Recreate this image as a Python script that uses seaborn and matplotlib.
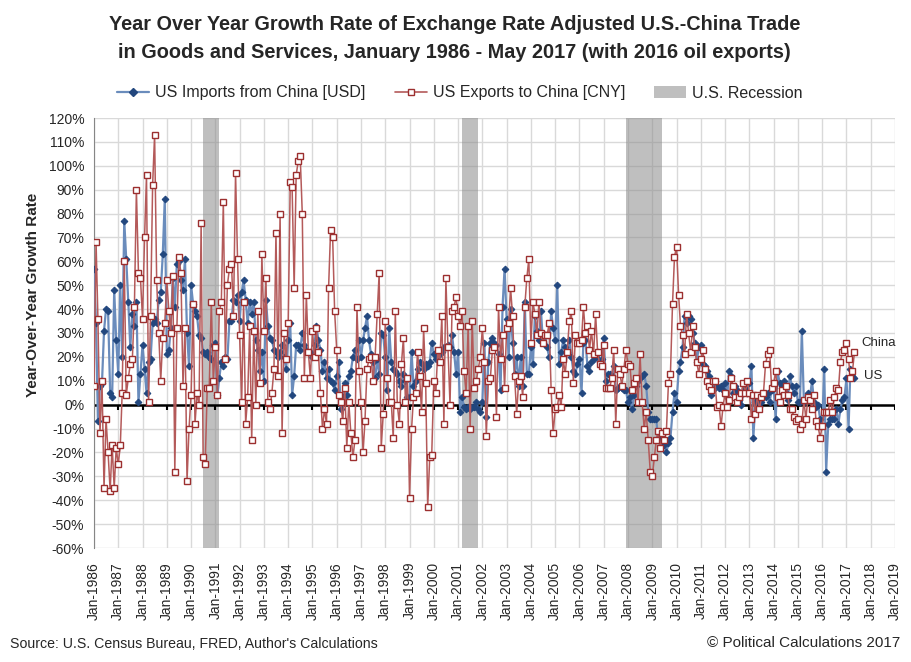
import numpy as np
import pandas as pd
import matplotlib
matplotlib.use("Agg")
import matplotlib.pyplot as plt
from matplotlib.lines import Line2D
from matplotlib.patches import Patch
from matplotlib.ticker import FuncFormatter
import seaborn as sns

# year-over-year growth, %, monthly from Jan 1986 (one row per year)
imports_usd = [
    57, 34, -7, 8, 9, 31, 40, 39, 5, 3, 48, 27,
    13, 50, 20, 77, 61, 43, 24, 38, 33, 43, 1, 13,
    25, 15, 5, 18, 19, 34, 36, 34, 44, 47, 63, 86,
    21, 23, 32, 53, 41, 59, 60, 52, 48, 61, 30, 16,
    50, 42, 39, 37, 29, 28, 22, 21, 22, 20, 19, 25,
    26, 4, 11, 18, 16, 20, 19, 35, 35, 44, 43, 46,
    35, 47, 52, 44, 34, 43, 38, 43, 27, 23, 14, 22,
    10, 44, 33, 28, 27, 23, 22, 20, 22, 25, 20, 15,
    27, 34, 4, 12, 25, 25, 23, 30, 25, 23, 22, 22,
    20, 25, 33, 27, 23, 14, 18, 11, 15, 10, 9, 6,
    12, 18, -2, 3, 9, 4, 12, 14, 20, 23, 19, 27,
    20, 27, 32, 37, 27, 21, 18, 11, 19, 13, 30, 29,
    20, 6, 32, 18, 15, 14, 13, 10, 8, 13, 10, 3,
    3, 22, 8, 10, 15, 18, 17, 15, 17, 16, 18, 26,
    21, 19, 22, 21, 22, 24, 24, 25, 24, 29, 22, 13,
    22, -3, 3, -1, -2, -1, -2, -1, -1, 1, -2, -3,
    1, 26, -5, 18, 26, 28, 26, 25, 21, 6, 41, 57,
    36, 20, 40, 26, 13, 20, 8, 20, 8, 43, 13, 13,
    24, 17, 37, 31, 27, 39, 26, 29, 24, 20, 39, 32,
    27, 50, 17, 22, 27, 24, 22, 27, 20, 14, 13, 17,
    19, 5, 26, 27, 16, 14, 18, 19, 20, 22, 18, 19,
    28, 10, 13, 13, 12, 16, 6, 7, 8, 7, 6, 6,
    1, 3, -2, 4, 8, 10, 11, 12, 13, 8, -3, -6,
    -6, -6, -6, -15, -13, -15, -17, -20, -16, -14, -3, 5,
    1, 14, 18, 24, 37, 34, 37, 36, 30, 26, 18, 24,
    25, 17, 16, 14, 12, 4, 6, 10, 8, 7, 8, 6,
    9, 3, 14, 12, 5, 8, 6, 2, 0, 5, 7, 5,
    9, 16, -14, 1, 3, -1, 1, 5, 3, 5, 1, 6,
    7, -6, 14, 9, 8, 10, 5, 2, 12, 8, 5, 8,
    1, 1, 31, 1, 2, 5, 3, 10, 1, -1, 0, -6,
    -9, 15, -28, -8, -6, -6, -6, -2, -8, -2, 2, 3,
    11, -10, 15, 12, 11,
]

exports_cny = [
    8, 68, 36, -12, 10, -35, -6, -20, -36, -17, -35, -18,
    -25, -17, 5, 60, 4, 11, 17, 19, 41, 90, 55, 53,
    36, 70, 96, 1, 37, 92, 113, 52, 30, 10, 28, 34,
    52, 39, 30, 54, -28, 32, 62, 55, 8, 32, -32, -10,
    4, 42, -8, 5, 0, 76, -22, -25, 7, 7, 43, 10,
    24, 4, 39, 43, 85, 19, 50, 57, 59, 37, 97, 61,
    29, 1, 43, -8, 3, 33, -15, 31, 0, 39, 9, 63,
    31, 53, 1, -2, 5, 15, 72, 12, 80, -12, 30, 19,
    34, 93, 91, 49, 96, 102, 104, 80, 11, 46, 22, 11,
    31, 20, 32, 22, 5, -10, -2, -8, 49, 73, 70, 39,
    23, 4, 1, -7, 7, -18, 1, -12, -22, -15, 41, 14,
    1, -20, -7, 15, 19, 20, 10, 20, 38, 55, -18, -4,
    35, 11, 1, 1, -14, 39, 0, -8, 17, 28, 1, 11,
    -39, -10, 3, 5, 22, 12, -3, 32, 9, -43, -22, -21,
    10, 5, 23, 18, 37, -8, 53, 24, 0, 39, 41, 45,
    37, 33, 39, 14, 5, 33, -10, 35, 7, 10, 15, 20,
    32, 18, -13, 10, 11, 23, 24, -5, 41, 19, 29, 7,
    32, 34, 49, 37, 12, -4, 10, 12, 3, 41, 53, 61,
    26, 43, 38, 29, 43, 30, 26, 29, 29, 34, 6, -12,
    -2, -1, 4, -1, 19, 13, 22, 35, 39, 9, 29, 26,
    26, 27, 41, 30, 33, 23, 31, 21, 38, 22, 17, 16,
    25, 7, 7, 7, 11, 23, -8, 15, 13, 8, 15, 23,
    17, 16, 6, 9, 11, 1, 21, 1, -10, -3, -15, -28,
    -30, -22, -15, -11, -18, -12, -15, -11, 9, 13, 42, 62,
    66, 46, 33, 29, 21, 38, 30, 22, 33, 24, 18, 13,
    19, 23, 15, 10, 8, 6, 10, 10, -1, 0, -9, -1,
    5, -1, 2, 11, 8, 3, 1, 3, 5, 9, 5, 10,
    5, -6, 4, -4, 4, -2, 3, 5, 17, 21, 23, 7,
    9, 14, 3, 1, 6, 4, 8, 4, -2, -2, -5, -7,
    -6, -10, -8, 2, -6, 3, 2, -2, 4, -7, -9, -14,
    -9, -3, -3, -3, 2, -3, 3, 7, 6, 18, 22, 23,
    26, 19, 11, 14, 22,
]

recession_start = ["1990-07-01", "2001-03-01", "2007-12-01"]
recession_end = ["1991-03-01", "2001-11-01", "2009-06-01"]

years = list(range(1986, 2020))
tick_labels = [f"Jan-{y}" for y in years]
y_ticks = list(range(-60, 121, 10))

df_imp = pd.DataFrame({"date": pd.date_range("1986-01-01", periods=len(imports_usd), freq="MS"),
                       "growth": imports_usd})
df_exp = pd.DataFrame({"date": pd.date_range("1986-01-01", periods=len(exports_cny), freq="MS"),
                       "growth": exports_cny})

sns.set_style("white")
plt.rcParams["font.family"] = ["Liberation Sans", "DejaVu Sans"]

blue_line, blue_mark = "#6a8cbc", "#22477e"
red_line, red_mark = "#b45a5a", "#9c2f2f"
shade = "#8c8c8c"

fig = plt.figure(figsize=(9.11, 6.62), dpi=100)
ax = fig.add_axes([94 / 911, 1 - 548 / 662, 801 / 911, 430 / 662])

tick_dates = pd.to_datetime([f"{y}-01-01" for y in years])
ax.set_xlim(tick_dates[0], tick_dates[-1])
ax.set_ylim(-60, 120)
ax.set_xticks(tick_dates)
ax.set_xticklabels(tick_labels, rotation=90, fontsize=10)
ax.set_yticks(y_ticks)
ax.yaxis.set_major_formatter(FuncFormatter(lambda v, _: f"{int(v)}%"))
ax.tick_params(axis="y", labelsize=10, direction="out", length=5, color="#868686", pad=2)
ax.tick_params(axis="x", length=0, pad=10)
ax.grid(True, color="#d9d9d9", lw=1, zorder=0)
ax.set_axisbelow(True)
for side in ["top", "right", "bottom"]:
    ax.spines[side].set_visible(False)
ax.spines["left"].set_color("#868686")

for s, e in zip(recession_start, recession_end):
    ax.axvspan(pd.Timestamp(s), pd.Timestamp(e), color=shade, alpha=0.55, lw=0, zorder=1)

ax.axhline(0, color="black", lw=1.8, zorder=2)
ax.vlines(tick_dates, -2.2, 0, colors="black", lw=1.5, zorder=2)

sns.lineplot(data=df_imp, x="date", y="growth", ax=ax, color=blue_line, lw=1.6,
             marker="D", markersize=3.4, markerfacecolor=blue_mark, markeredgecolor=blue_mark,
             zorder=3)
sns.lineplot(data=df_exp, x="date", y="growth", ax=ax, color=red_line, lw=1.1,
             marker="s", markersize=4.0, markerfacecolor="white", markeredgecolor=red_mark,
             markeredgewidth=1, zorder=4)
ax.set_xlabel("")
ax.set_ylabel("")

ax.text(pd.Timestamp("2017-08-15"), 26, "China", fontsize=9.5, va="center")
ax.text(pd.Timestamp("2017-09-15"), 12, "US", fontsize=9.5, va="center")

fig.text(0.499, 1 - 25 / 662, "Year Over Year Growth Rate of Exchange Rate Adjusted U.S.-China Trade",
         ha="center", va="center", fontsize=14.3, weight="bold")
fig.text(0.499, 1 - 52 / 662, "in Goods and Services, January 1986 - May 2017 (with 2016 oil exports)",
         ha="center", va="center", fontsize=14.3, weight="bold")
fig.text(33 / 911, 1 - 295 / 662, "Year-Over-Year Growth Rate", rotation=90,
         ha="center", va="center", fontsize=11, weight="bold")

handles = [
    Line2D([], [], color=blue_line, lw=1.6, marker="D", markersize=4,
           markerfacecolor=blue_mark, markeredgecolor=blue_mark),
    Line2D([], [], color=red_line, lw=1.2, marker="s", markersize=4.5,
           markerfacecolor="white", markeredgecolor=red_mark),
    Patch(facecolor="#bfbfbf", edgecolor="none"),
]
fig.legend(handles, ["US Imports from China [USD]", "US Exports to China [CNY]", "U.S. Recession"],
           loc="center", bbox_to_anchor=(460 / 911, 1 - 93 / 662), ncol=3, frameon=False,
           fontsize=11.5, handlelength=2.0, columnspacing=1.8, handletextpad=0.4)

fig.text(10 / 911, 1 - 644 / 662, "Source: U.S. Census Bureau, FRED, Author's Calculations",
         ha="left", va="center", fontsize=10.2)
fig.text(900 / 911, 1 - 643 / 662, "\u00a9 Political Calculations 2017",
         ha="right", va="center", fontsize=11)

fig.savefig("out.png", dpi=100)
